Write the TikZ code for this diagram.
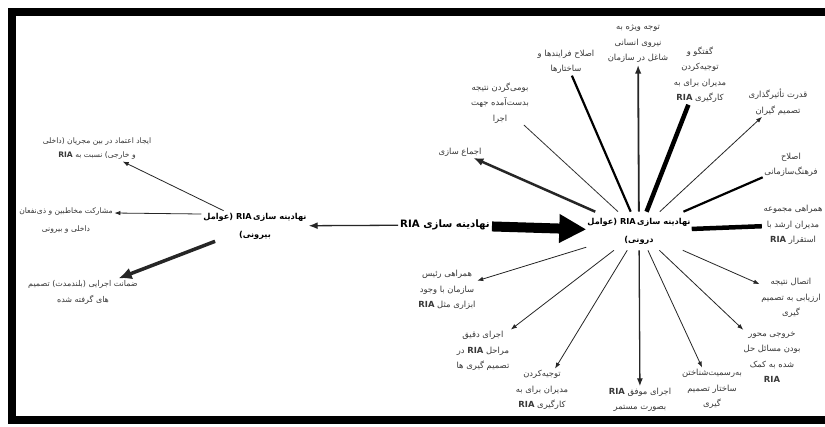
\documentclass[tikz,border=0pt]{standalone}
\usepackage{fontspec}
\usetikzlibrary{arrows.meta}
\newfontfamily\fa[Script=Arabic]{DejaVu Sans}
\TeXXeTstate=1
\newcommand\rl[1]{\beginR #1\endR}
\newcommand\ria{\beginL\textbf{RIA}\endL}
\newcommand\labfont{\fontsize{8.4}{15.5}\selectfont\fa}
\newcommand\hdfont{\fontsize{8.2}{18}\selectfont\fa\bfseries}
\tikzset{
  lab/.style={font=\labfont, text=black!78, align=center, inner sep=1.5pt},
  hd/.style={font=\hdfont, align=center, inner sep=1pt},
  ar/.style={draw=black!85, line width=0.8pt, -{Latex[length=6pt,width=4.5pt]}},
  ln/.style={draw=black, line width=#1},
}
\begin{document}
\begin{tikzpicture}[x=1pt,y=-1pt]
\useasboundingbox (0,0) rectangle (825,426);
\fill[white] (0,0) rectangle (825,426);
\draw[line width=8pt] (825,12) -- (12,12) -- (12,420) -- (825,420);

% main nodes
\node[hd, inner sep=2pt] (L) at (255,226) {\rl{نهادینه سازی\,\ria{} (عوامل}\\\rl{بیرونی)}};
\node[font=\fontsize{10.2}{12}\selectfont\fa\bfseries, inner sep=2pt] (M) at (445,225) {\rl{نهادینه سازی \ria}};
\node[hd, inner xsep=1pt, inner ysep=6pt] (C) at (639,231) {\rl{نهادینه سازی\,\ria{} (عوامل}\\\rl{درونی)}};

% left labels
\node[lab, font=\fontsize{7.6}{14}\selectfont\fa] (l1) at (97,149) {\rl{ایجاد اعتماد در بین مجریان (داخلی}\\\rl{و خارجی) نسبت به \ria}};
\node[lab, font=\fontsize{7.6}{18}\selectfont\fa] (l2) at (66,221) {\rl{مشارکت مخاطبین و ذی‌نفعان}\\\rl{داخلی و بیرونی}};
\node[lab, font=\fontsize{8}{16}\selectfont\fa] (l3) at (83,292) {\rl{ضمانت اجرایی (بلندمدت) تصمیم}\\\rl{های گرفته شده}};

% right labels
\node[lab] (a) at (460,152) {\rl{اجماع سازی}};
\node[lab] (b) at (500,103) {\rl{بومی‌گردن نتیجه}\\\rl{بدست‌آمده جهت}\\\rl{اجرا}};
\node[lab] (c) at (566,62) {\rl{اصلاح فرایندها و}\\\rl{ساختارها}};
\node[lab] (d) at (638,44) {\rl{توجه ویژه به}\\\rl{نیروی انسانی}\\\rl{شاغل در سازمان}};
\node[lab] (e) at (700,75) {\rl{گفتگو و}\\\rl{توجیه‌کردن}\\\rl{مدیران برای به}\\\rl{کارگیری \ria}};
\node[lab] (f) at (778,102) {\rl{قدرت تأثیرگذاری}\\\rl{تصمیم گیران}};
\node[lab] (g) at (791,165) {\rl{اصلاح}\\\rl{فرهنگ‌سازمانی}};
\node[lab] (h) at (793,225) {\rl{همراهی مجموعه}\\\rl{مدیران ارشد با}\\\rl{استقرار \ria}};
\node[lab] (i) at (791,298) {\rl{اتصال نتیجه}\\\rl{ارزیابی به تصمیم}\\\rl{گیری}};
\node[lab] (j) at (772,357) {\rl{خروجی محور}\\\rl{بودن مسائل حل}\\\rl{شده به کمک}\\\ria};
\node[lab] (k) at (712,389) {\rl{به‌رسمیت‌شناختن}\\\rl{ساختار تصمیم}\\\rl{گیری}};
\node[lab] (l) at (640,400) {\rl{اجرای موفق \ria}\\\rl{بصورت مستمر}};
\node[lab] (m) at (542,390) {\rl{توجیه‌کردن}\\\rl{مدیران برای به}\\\rl{کارگیری \ria}};
\node[lab] (n) at (483,351) {\rl{اجرای دقیق}\\\rl{مراحل \ria{} در}\\\rl{تصمیم گیری ها}};
\node[lab] (o) at (447,290) {\rl{همراهی رئیس}\\\rl{سازمان با وجود}\\\rl{ابزاری مثل \ria}};

% connectors
\draw[ar, line width=1.3pt, -{Latex[length=9pt,width=7pt]}] (M) -- (L);
\draw[line width=10pt, -{Triangle[length=27pt,width=27pt]}] (M) -- (C);

\draw[ar] (L) -- (l1);
\draw[ar] ([yshift=12pt]L.west) -- ([yshift=8pt]l2.east);
\draw[ar, line width=3.5pt, -{Latex[length=13pt,width=12pt]}] (L) -- (l3);

\draw[ar, line width=2.5pt, -{Latex[length=10pt,width=8pt]}] (C) -- (a);
\draw[ln=0.8pt, draw=black!80] (C) -- (b);
\draw[ln=2.2pt] (C) -- (c);
\draw[ar, line width=1.8pt, -{Latex[length=9pt,width=6.5pt]}] (C) -- (d);
\draw[ln=4.5pt] (C) -- (e);
\draw[ar] (C) -- (f);
\draw[ln=2.2pt] (C) -- (g);
\draw[ln=4.5pt] (C) -- (h);
\draw[ar] (C) -- (i);
\draw[ar] (C) -- (j);
\draw[ar] (C) -- (k);
\draw[ar, line width=1.3pt, -{Latex[length=8pt,width=6pt]}] (C) -- (l);
\draw[ar] (C) -- (m);
\draw[ar] (C) -- (n);
\draw[ar] (C) -- (o);
\end{tikzpicture}
\end{document}
